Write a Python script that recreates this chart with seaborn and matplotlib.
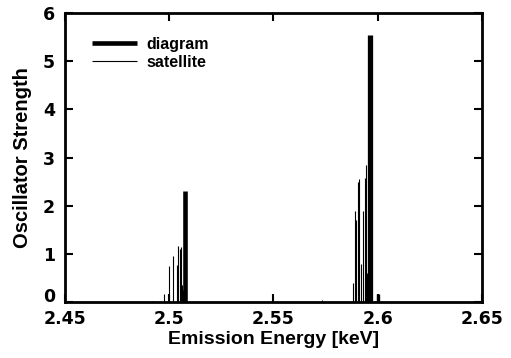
import matplotlib
matplotlib.use('Agg')
import matplotlib.pyplot as plt
import matplotlib.transforms as mtransforms
import seaborn as sns
import pandas as pd

# diagram lines (energy in keV, oscillator strength)
diagram_energy = [2.5076, 2.5963, 2.6004]
diagram_strength = [2.30, 5.54, 0.17]

# satellite lines
satellite_energy = [2.4917, 2.4975, 2.5001, 2.5019, 2.5038, 2.5043, 2.5050, 2.5058,
                    2.5063, 2.5068, 2.5072,
                    2.5883, 2.5891, 2.5897, 2.5904, 2.5912, 2.5920, 2.5931, 2.5939,
                    2.5944, 2.5950, 2.5733]
satellite_strength = [0.03, 0.17, 0.75, 0.95, 0.78, 1.16, 1.10, 1.14,
                      0.35, 0.25, 0.30,
                      0.39, 1.90, 1.70, 2.50, 2.55, 0.80, 1.90, 2.57,
                      2.84, 0.60, 0.05]

x_ticks = [2.45, 2.5, 2.55, 2.6, 2.65]
x_tick_labels = ['2.45', '2.5', '2.55', '2.6', '2.65']
y_ticks = [0, 1, 2, 3, 4, 5, 6]

diag = pd.DataFrame({'energy': diagram_energy, 'strength': diagram_strength})
sat = pd.DataFrame({'energy': satellite_energy, 'strength': satellite_strength})

sns.set_style('ticks', {'text.color': 'black', 'axes.labelcolor': 'black',
                        'xtick.color': 'black', 'ytick.color': 'black',
                        'axes.edgecolor': 'black'})
plt.rcParams['font.family'] = ['Liberation Sans', 'DejaVu Sans']
plt.rcParams['font.weight'] = 'bold'

fig = plt.figure(figsize=(5.11, 3.58), dpi=100)
ax = fig.add_axes([0.127, 0.156, 0.816, 0.808])

ax.vlines(sat['energy'], 0, sat['strength'], color='black', lw=0.8, label='satellite')
ax.vlines(diag['energy'], 0, diag['strength'], color='black', lw=[3.3, 3.8, 2.4], label='diagram')

ax.set_xlim(2.45, 2.65)
ax.set_ylim(0, 6)
ax.set_xticks(x_ticks)
ax.set_xticklabels(x_tick_labels)
ax.set_yticks(y_ticks)

ax.tick_params(direction='in', length=5.5, width=1.5, top=True, right=True)
ax.tick_params(axis='x', pad=6)
ax.tick_params(axis='y', pad=7)
for lab in ax.get_xticklabels() + ax.get_yticklabels():
    lab.set_fontweight('bold')
    lab.set_fontfamily('DejaVu Sans')
    lab.set_fontsize(12.5)
    lab.set_color('black')
# the "0" sits a little above the corner so it clears "2.45"
y0 = ax.get_yticklabels()[0]
y0.set_transform(y0.get_transform() + mtransforms.ScaledTranslation(0, 5 / 72, fig.dpi_scale_trans))
for s in ax.spines.values():
    s.set_linewidth(2)
    s.set_color('black')

ax.set_xlabel('Emission Energy [keV]', fontsize=14, fontweight='bold', labelpad=2)
ax.set_ylabel('Oscillator Strength', fontsize=14.5, fontweight='bold', labelpad=8)

# legend with diagram first
handles, labels = ax.get_legend_handles_labels()
leg = ax.legend(handles[::-1], labels[::-1], loc='upper left', frameon=False,
                bbox_to_anchor=(0.031, 0.968), handlelength=2.8, handletextpad=0.6,
                prop={'weight': 'bold', 'size': 11.5}, labelspacing=0.2)

plt.savefig('out.png', dpi=100)
